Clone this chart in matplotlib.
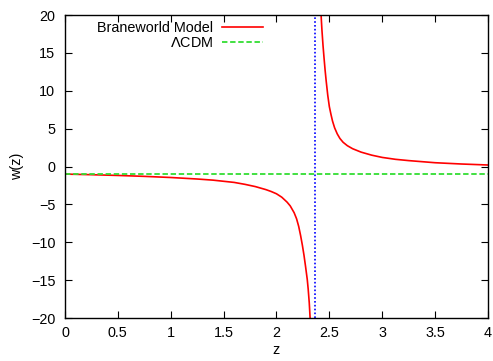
import matplotlib
matplotlib.use('Agg')
import matplotlib.pyplot as plt

plt.rcParams['font.family'] = ['Liberation Sans', 'DejaVu Sans']
plt.rcParams['font.size'] = 10.4

# braneworld model, branch below the pole
z_low = [0.0, 0.25, 0.5, 0.75, 1.0, 1.25, 1.4, 1.5, 1.6, 1.7, 1.8, 1.9, 1.95,
         2.0, 2.05, 2.1, 2.13, 2.167, 2.19, 2.21, 2.228, 2.245, 2.26, 2.275,
         2.291, 2.3, 2.31, 2.32]
w_low = [-1.0, -1.08, -1.18, -1.3, -1.45, -1.65, -1.8, -1.95, -2.1, -2.35, -2.65,
         -3.05, -3.3, -3.6, -4.05, -4.7, -5.2, -6.1, -6.9, -7.9, -9.1, -10.4,
         -11.7, -13.2, -14.9, -16.2, -18.0, -20.5]

# branch above the pole
z_high = [2.42, 2.425, 2.43, 2.435, 2.44, 2.45, 2.46, 2.47, 2.485, 2.5, 2.515,
          2.53, 2.55, 2.575, 2.6, 2.63, 2.67, 2.72, 2.8, 2.9, 3.0, 3.125, 3.25,
          3.5, 3.75, 4.0]
w_high = [20.5, 19.2, 18.0, 17.0, 16.0, 14.3, 12.7, 11.3, 9.4, 7.9, 6.9,
          6.0, 5.1, 4.3, 3.7, 3.2, 2.75, 2.35, 1.9, 1.5, 1.2, 0.95, 0.78,
          0.5, 0.33, 0.2]

w_lcdm = -1.0
z_pole = 2.364

x_ticks = [0, 0.5, 1, 1.5, 2, 2.5, 3, 3.5, 4]
x_labels = ['0', '0.5', '1', '1.5', '2', '2.5', '3', '3.5', '4']
y_ticks = [-20, -15, -10, -5, 0, 5, 10, 15, 20]

fig = plt.figure(figsize=(4.93, 3.61), dpi=100)
ax = fig.add_axes([0.1318, 0.1191, 0.858, 0.8393])

ax.plot(z_low, w_low, color='#ff0000', lw=1.2, label='Braneworld Model')
ax.plot(z_high, w_high, color='#ff0000', lw=1.2)
ax.axhline(w_lcdm, color='#33dd33', lw=1.3, ls=(0, (3, 1.5)), label=r'$\Lambda$CDM')
ax.axvline(z_pole, color='#0000ff', lw=1.2, ls=(0, (1, 1.3)))

ax.set_xlim(0, 4)
ax.set_ylim(-20, 20)
ax.set_xticks(x_ticks)
ax.set_xticklabels(x_labels)
ax.set_yticks(y_ticks)
ax.tick_params(direction='in', top=True, right=True, length=5, width=0.8)
ax.tick_params(axis='x', pad=6)
ax.tick_params(axis='y', pad=7)
for s in ax.spines.values():
    s.set_linewidth(1.0)

ax.set_xlabel('z', labelpad=2)
ax.set_ylabel('w(z)', labelpad=5)

ax.legend(loc='upper right', bbox_to_anchor=(0.485, 1.005), frameon=False,
          markerfirst=False, handlelength=2.8, handletextpad=0.65,
          labelspacing=0.12, borderaxespad=0.1)

fig.savefig('out.png', dpi=100)
